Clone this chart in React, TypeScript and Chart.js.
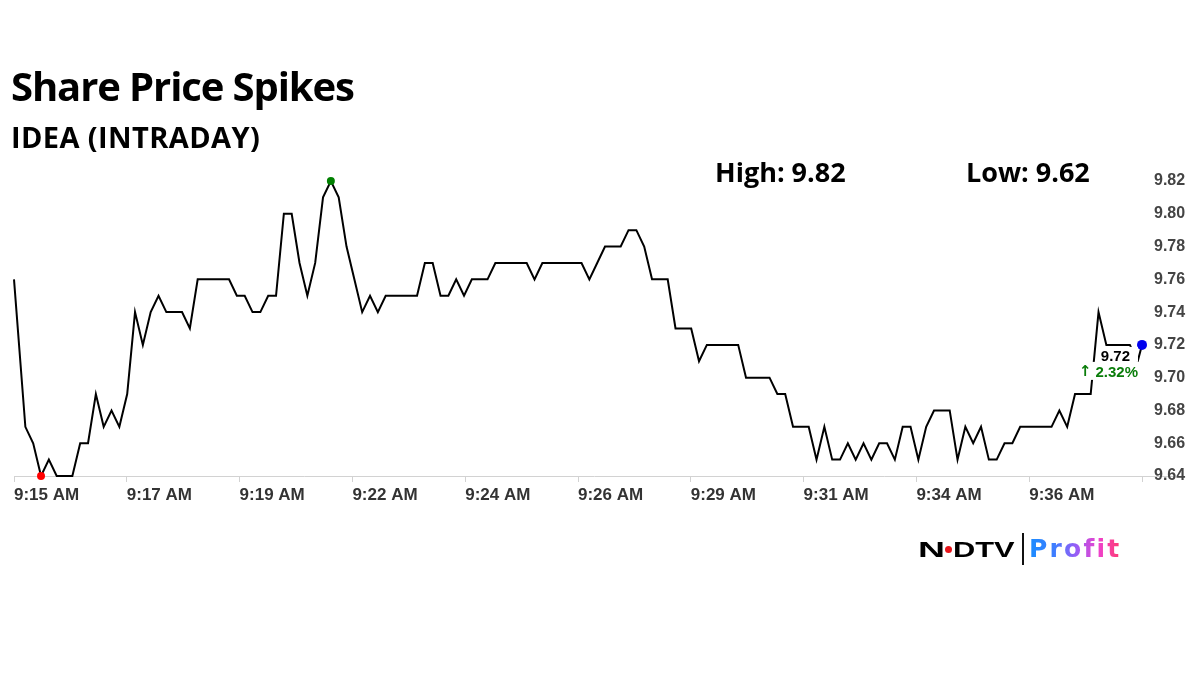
import React, { useEffect, useRef } from "react";
import { Chart, registerables } from "chart.js";

Chart.register(...registerables);

// ---- data ----
const prices: number[] = [
  9.76, 9.67, 9.66, 9.64, 9.65, 9.64, 9.64, 9.64, 9.66, 9.66,
  9.69, 9.67, 9.68, 9.67, 9.69, 9.74, 9.72, 9.74, 9.75, 9.74,
  9.74, 9.74, 9.73, 9.76, 9.76, 9.76, 9.76, 9.76, 9.75, 9.75,
  9.74, 9.74, 9.75, 9.75, 9.80, 9.80, 9.77, 9.75, 9.77, 9.81,
  9.82, 9.81, 9.78, 9.76, 9.74, 9.75, 9.74, 9.75, 9.75, 9.75,
  9.75, 9.75, 9.77, 9.77, 9.75, 9.75, 9.76, 9.75, 9.76, 9.76,
  9.76, 9.77, 9.77, 9.77, 9.77, 9.77, 9.76, 9.77, 9.77, 9.77,
  9.77, 9.77, 9.77, 9.76, 9.77, 9.78, 9.78, 9.78, 9.79, 9.79,
  9.78, 9.76, 9.76, 9.76, 9.73, 9.73, 9.73, 9.71, 9.72, 9.72,
  9.72, 9.72, 9.72, 9.70, 9.70, 9.70, 9.70, 9.69, 9.69, 9.67,
  9.67, 9.67, 9.65, 9.67, 9.65, 9.65, 9.66, 9.65, 9.66, 9.65,
  9.66, 9.66, 9.65, 9.67, 9.67, 9.65, 9.67, 9.68, 9.68, 9.68,
  9.65, 9.67, 9.66, 9.67, 9.65, 9.65, 9.66, 9.66, 9.67, 9.67,
  9.67, 9.67, 9.67, 9.68, 9.67, 9.69, 9.69, 9.69, 9.74, 9.72,
  9.72, 9.72, 9.72, 9.71, 9.72,
];

const xTickLabels: string[] = [
  "9:15 AM", "9:17 AM", "9:19 AM", "9:22 AM", "9:24 AM",
  "9:26 AM", "9:29 AM", "9:31 AM", "9:34 AM", "9:36 AM",
];

const yTickValues: number[] = [9.64, 9.66, 9.68, 9.7, 9.72, 9.74, 9.76, 9.78, 9.8, 9.82];

// sampling (seconds from the start of the plotted window)
const SESSION_SECONDS = 1440;
const SAMPLE_SECONDS = 10;
const FIRST_SAMPLE_AT = 14.5;
const X_TICK_COUNT = 10;

const titleText = "Share Price Spikes";
const subtitleText = "IDEA (INTRADAY)";
const highText = "High: 9.82";
const lowText = "Low: 9.62";
const lastPriceText = "9.72";
const changeArrow = "\u2191";
const changeText = "2.32%";

const sampleTimes = prices.map((_, i) =>
  i === 0 ? 0 : i === prices.length - 1 ? SESSION_SECONDS : FIRST_SAMPLE_AT + (i - 1) * SAMPLE_SECONDS
);

const AX_FONT = "'Liberation Sans', Arial, sans-serif";
const OS_FONT = "'Open Sans', sans-serif";

const lastLabelPlugin = {
  id: "lastLabel",
  beforeDraw(chart: any) {
    const { ctx, chartArea } = chart;
    ctx.save();
    ctx.strokeStyle = "#d2d2d2";
    ctx.lineWidth = 1;
    ctx.beginPath();
    ctx.moveTo(chartArea.left, chartArea.bottom + 0.5);
    ctx.lineTo(chartArea.right + 33, chartArea.bottom + 0.5);
    ctx.stroke();
    ctx.restore();
  },
  afterDatasetsDraw(chart: any) {
    const meta = chart.getDatasetMeta(0);
    const pt = meta.data[meta.data.length - 1];
    if (!pt) return;
    const { ctx } = chart;
    const px = pt.x;
    const py = pt.y;
    ctx.save();
    ctx.fillStyle = "#ffffff";
    ctx.fillRect(px - 45, py + 2, 41, 15);
    ctx.fillRect(px - 62, py + 17, 59, 18);
    ctx.textBaseline = "middle";
    ctx.font = `bold 15px ${AX_FONT}`;
    ctx.fillStyle = "#000000";
    ctx.textAlign = "right";
    ctx.fillText(lastPriceText, px - 12, py + 12);
    ctx.fillStyle = "#0a7d0a";
    ctx.fillText(changeText, px - 4, py + 27.5);
    const w = ctx.measureText(changeText).width;
    ctx.font = `bold 15px 'DejaVu Sans', sans-serif`;
    ctx.fillText(changeArrow, px - 4 - w - 4, py + 27.5);
    ctx.restore();
  },
};

function Txt(props: {
  text: string;
  left: number;
  baseline: number;
  size: number;
  ascentRatio?: number;
  style?: React.CSSProperties;
}) {
  const r = props.ascentRatio ?? 0.888;
  return (
    <div
      style={{
        position: "absolute",
        left: props.left,
        top: props.baseline - r * props.size,
        fontSize: props.size,
        lineHeight: 1,
        whiteSpace: "nowrap",
        fontFamily: OS_FONT,
        fontWeight: 700,
        color: "#000",
        ...props.style,
      }}
    >
      {props.text}
    </div>
  );
}

export default function App() {
  const canvasRef = useRef<HTMLCanvasElement | null>(null);

  useEffect(() => {
    if (!canvasRef.current) return;
    const last = prices.length - 1;
    const minIdx = prices.indexOf(Math.min(...prices));
    const maxIdx = prices.indexOf(Math.max(...prices));
    const chart = new Chart(canvasRef.current, {
      type: "line",
      data: {
        datasets: [
          {
            data: prices.map((p, i) => ({ x: sampleTimes[i], y: p })),
            borderColor: "#000000",
            borderWidth: 2,
            tension: 0,
            clip: false as any,
            pointRadius: (c: any) =>
              c.dataIndex === last ? 5 : c.dataIndex === minIdx || c.dataIndex === maxIdx ? 4 : 0,
            pointHoverRadius: 0,
            pointBorderWidth: 0,
            pointBackgroundColor: (c: any) =>
              c.dataIndex === last
                ? "#0000ee"
                : c.dataIndex === minIdx
                ? "#ff0000"
                : c.dataIndex === maxIdx
                ? "#008000"
                : "#000",
          },
        ],
      },
      options: {
        responsive: false,
        animation: false,
        events: [],
        layout: { padding: { left: 14, top: 181, right: 0, bottom: 0 } },
        plugins: { legend: { display: false }, tooltip: { enabled: false } },
        scales: {
          x: {
            type: "linear",
            min: 0,
            max: SESSION_SECONDS,
            afterBuildTicks: (s: any) => {
              const ticks = [];
              for (let k = 0; k <= X_TICK_COUNT; k++) ticks.push({ value: (k * SESSION_SECONDS) / X_TICK_COUNT });
              s.ticks = ticks;
            },
            afterFit: (s: any) => {
              s.height = 198;
            },
            border: { display: false },
            grid: {
              display: true,
              drawOnChartArea: false,
              drawTicks: true,
              tickLength: 6,
              color: "#d2d2d2",
            },
            ticks: {
              autoSkip: false,
              maxRotation: 0,
              minRotation: 0,
              align: "start",
              padding: 3.5,
              color: "#333333",
              font: { family: AX_FONT, size: 17, weight: "bold" },
              callback: (_v: any, idx: number) => xTickLabels[idx] ?? "",
            },
          },
          y: {
            type: "linear",
            position: "right",
            min: yTickValues[0],
            max: yTickValues[yTickValues.length - 1],
            afterBuildTicks: (s: any) => {
              s.ticks = yTickValues.map((v) => ({ value: v }));
            },
            afterFit: (s: any) => {
              s.width = 58;
            },
            border: { display: false },
            grid: { display: false, drawTicks: false },
            ticks: {
              padding: 12,
              color: "#444444",
              font: { family: AX_FONT, size: 16, weight: "bold" },
              callback: (v: any) => Number(v).toFixed(2),
            },
          },
        },
      },
      plugins: [lastLabelPlugin],
    } as any);
    return () => chart.destroy();
  }, []);

  return (
    <div
      style={{
        position: "absolute",
        left: 0,
        top: 0,
        width: 1200,
        height: 674,
        background: "#ffffff",
        overflow: "hidden",
      }}
    >
      <canvas
        ref={canvasRef}
        width={1200}
        height={674}
        style={{ position: "absolute", left: 0, top: 0, width: 1200, height: 674 }}
      />
      <Txt text={titleText} left={11} baseline={101.7} size={40} style={{ letterSpacing: -1.1 }} />
      <Txt text={subtitleText} left={11} baseline={147.3} size={29} style={{ letterSpacing: 0.4 }} />
      <Txt text={highText} left={715} baseline={181.7} size={27} />
      <Txt text={lowText} left={966} baseline={181.7} size={27} />

      {/* logo */}
      <Txt
        text="N"
        left={918}
        baseline={557.3}
        size={22}
        ascentRatio={0.8465}
        style={{ fontFamily: AX_FONT, fontWeight: 900, transform: "scaleX(1.7)", transformOrigin: "0 0" }}
      />
      <div
        style={{
          position: "absolute",
          left: 945,
          top: 546,
          width: 7,
          height: 7,
          borderRadius: "50%",
          background: "#e8151b",
        }}
      />
      <Txt
        text="DTV"
        left={953}
        baseline={557.3}
        size={22}
        ascentRatio={0.8465}
        style={{ fontFamily: AX_FONT, fontWeight: 900, transform: "scaleX(1.4)", transformOrigin: "0 0" }}
      />
      <div style={{ position: "absolute", left: 1022, top: 533, width: 2, height: 32, background: "#111" }} />
      <Txt
        text="Profit"
        left={1029}
        baseline={557}
        size={25}
        ascentRatio={0.846}
        style={{
          fontFamily: "'DejaVu Sans', sans-serif",
          letterSpacing: 2.2,
          background: "linear-gradient(90deg, #1a8cff 0%, #3f7dff 28%, #9a5cf5 52%, #ee42cc 76%, #ff3b6e 100%)",
          WebkitBackgroundClip: "text",
          backgroundClip: "text",
          color: "transparent",
        }}
      />
    </div>
  );
}
